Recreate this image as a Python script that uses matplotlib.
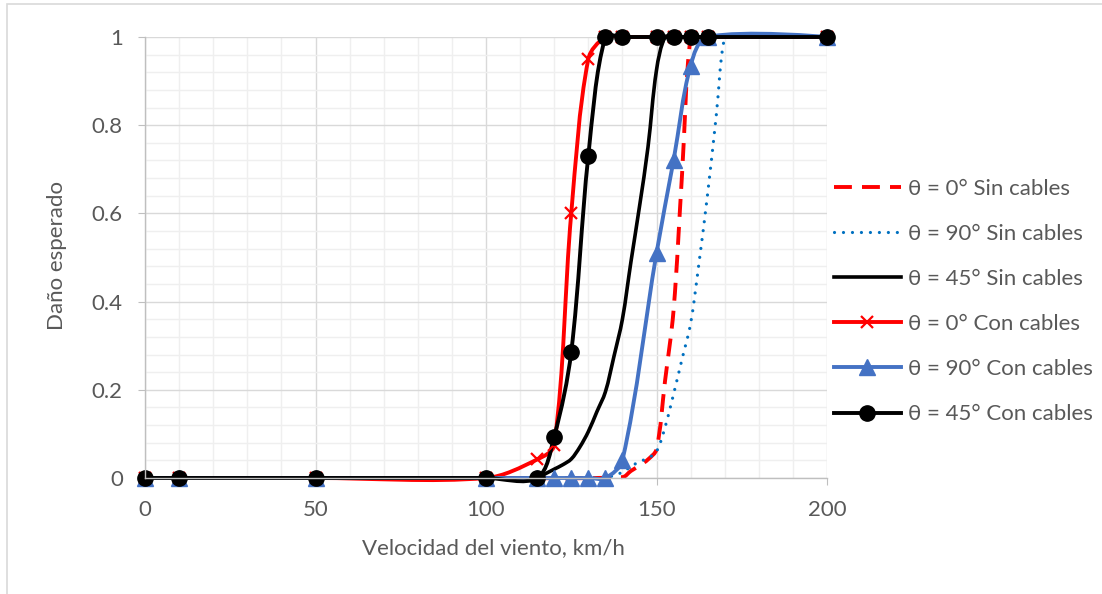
import matplotlib
matplotlib.use("Agg")
import matplotlib.pyplot as plt
import numpy as np
from matplotlib.lines import Line2D
from matplotlib.patches import PathPatch, Rectangle
from matplotlib.path import Path
from matplotlib.ticker import MultipleLocator, FuncFormatter

# wind speed (km/h) for the "con cables" series (with markers)
v_con = [0, 10, 50, 100, 115, 120, 125, 130, 135, 140, 150, 155, 160, 165, 200]
dmg_0_con = [0, 0, 0, 0, 0.042, 0.075, 0.60, 0.95, 1, 1, 1, 1, 1, 1, 1]
dmg_90_con = [0, 0, 0, 0, 0, 0, 0, 0, 0, 0.04, 0.51, 0.72, 0.935, 1, 1]
dmg_45_con = [0, 0, 0, 0, 0, 0.094, 0.286, 0.73, 1, 1, 1, 1, 1, 1, 1]

# "sin cables" series (plain smoothed lines)
v_0_sin = [0, 50, 100, 140, 142.5, 145, 147.5, 150, 152.5, 155, 157.5, 160, 162.5, 200]
dmg_0_sin = [0, 0, 0, 0.002, 0.016, 0.028, 0.042, 0.065, 0.22, 0.38, 0.69, 1, 1, 1]
v_90_sin = [0, 50, 100, 135, 137.5, 140, 142.5, 145, 147.5, 150, 152.5, 155, 157.5,
            160, 162.5, 165, 167.5, 170, 172.5, 200]
dmg_90_sin = [0, 0, 0, 0, 0.006, 0.013, 0.026, 0.037, 0.045, 0.06, 0.115, 0.19, 0.27,
              0.35, 0.49, 0.645, 0.82, 1, 1, 1]
v_45_sin = [0, 50, 100, 115, 117.5, 120, 122.5, 125, 127.5, 130, 132.5, 135, 137.5,
            140, 142.5, 145, 147.5, 150, 152.5, 155, 200]
dmg_45_sin = [0, 0, 0, 0, 0.01, 0.02, 0.03, 0.043, 0.07, 0.105, 0.15, 0.195, 0.275,
              0.36, 0.49, 0.615, 0.75, 0.925, 1, 1, 1]

labels = ["θ = 0° Sin cables", "θ = 90° Sin cables", "θ = 45° Sin cables",
          "θ = 0° Con cables", "θ = 90° Con cables", "θ = 45° Con cables"]

RED = "#FF0000"
BLUE_DOT = "#0070C0"
BLUE = "#4472C4"
TXT = "#595959"
FONT = "Lato"
FS = 16

# axes box in pixels (for the spreadsheet-like smoothing, done in screen space)
AX_L, AX_R, AX_T, AX_B = 145, 827, 37, 478
SX = (AX_R - AX_L) / 200.0
SY = (AX_B - AX_T) / 1.0


def smooth_path(x, y, t=1 / 3):
    """Spreadsheet-style smoothed line: cubic Bezier with control points
    weighted by the neighbouring segment lengths (measured on screen)."""
    p = np.column_stack([x, y]).astype(float)
    n = len(p)
    scale = np.array([SX, SY])
    before = [p[0]] * n
    after = [p[0]] * n
    for i in range(n):
        if i == 0 or i == n - 1:
            before[i] = after[i] = p[i]
            continue
        d01 = np.linalg.norm((p[i] - p[i - 1]) * scale)
        d12 = np.linalg.norm((p[i + 1] - p[i]) * scale)
        tot = d01 + d12 if d01 + d12 > 0 else 1
        tan = p[i + 1] - p[i - 1]
        before[i] = p[i] - t * d01 / tot * tan
        after[i] = p[i] + t * d12 / tot * tan
    verts = [p[0]]
    codes = [Path.MOVETO]
    for i in range(n - 1):
        verts += [after[i], before[i + 1], p[i + 1]]
        codes += [Path.CURVE4] * 3
    return Path(verts, codes)


plt.rcParams["font.family"] = [FONT, "DejaVu Sans"]

fig = plt.figure(figsize=(11.02, 5.94), dpi=100)
ax = fig.add_axes([AX_L / 1102, 1 - AX_B / 594, (AX_R - AX_L) / 1102, (AX_B - AX_T) / 594])

# chart area border
fig.patches.append(Rectangle((7 / 1102, -0.05), 1.1, 1 - 4 / 594 + 0.05,
                             transform=fig.transFigure, fill=False,
                             edgecolor="#d9d9d9", lw=1.2))

ax.set_xlim(0, 200)
ax.set_ylim(0, 1)
ax.xaxis.set_major_locator(MultipleLocator(50))
ax.xaxis.set_minor_locator(MultipleLocator(10))
ax.yaxis.set_major_locator(MultipleLocator(0.2))
ax.yaxis.set_minor_locator(MultipleLocator(0.04))
ax.yaxis.set_major_formatter(FuncFormatter(lambda v, _: f"{v:g}"))
ax.grid(which="major", color="#d9d9d9", lw=1.0)
ax.grid(which="minor", color="#efefef", lw=1.0)
ax.set_axisbelow(True)
for s in ["top", "right"]:
    ax.spines[s].set_visible(False)
for s in ["left", "bottom"]:
    ax.spines[s].set_color("#bfbfbf")
    ax.spines[s].set_linewidth(1.0)
ax.tick_params(which="major", direction="out", length=5, width=0.8,
               color="#bfbfbf", labelcolor=TXT, labelsize=FS)
ax.tick_params(axis="x", pad=11)
ax.tick_params(axis="y", pad=11)
ax.tick_params(which="minor", length=0)

styles = [
    dict(color=RED, lw=2.8, ls=(0, (4.6, 2.6)), capstyle="butt"),
    dict(color=BLUE_DOT, lw=2.3, ls=(0, (0.01, 2.8)), capstyle="round"),
    dict(color="black", lw=2.6, ls="-", capstyle="round"),
    dict(color=RED, lw=2.8, ls="-", capstyle="round"),
    dict(color=BLUE, lw=2.8, ls="-", capstyle="round"),
    dict(color="black", lw=2.8, ls="-", capstyle="round"),
]
markers = [None, None, None,
           dict(marker="x", ms=8, mew=1.6, mfc=RED, mec=RED),
           dict(marker="^", ms=11, mfc=BLUE, mec=BLUE),
           dict(marker="o", ms=11, mfc="black", mec="black")]
series = [(v_0_sin, dmg_0_sin), (v_90_sin, dmg_90_sin), (v_45_sin, dmg_45_sin),
          (v_con, dmg_0_con), (v_con, dmg_90_con), (v_con, dmg_45_con)]

handles = []
for (x, y), st, mk in zip(series, styles, markers):
    patch = PathPatch(smooth_path(x, y), fill=False, edgecolor=st["color"],
                      lw=st["lw"], linestyle=st["ls"], capstyle=st["capstyle"],
                      joinstyle="round", clip_on=False)
    ax.add_patch(patch)
    if mk:
        ax.plot(x, y, ls="none", clip_on=False, zorder=patch.get_zorder() + 0.1, **mk)
    handles.append(Line2D([], [], color=st["color"], lw=st["lw"], ls=st["ls"],
                          dash_capstyle=st["capstyle"], **(mk or {})))

fig.legend(handles, labels, loc="center left",
           bbox_to_anchor=(834 / 1102, 1 - 301.5 / 594), frameon=False,
           fontsize=FS, labelcolor=TXT, handlelength=3.0, handletextpad=0.35,
           labelspacing=1.13, borderpad=0, borderaxespad=0)

fig.text(493.5 / 1102, 1 - 548 / 594, "Velocidad del viento, km/h",
         ha="center", va="center", color=TXT, fontsize=FS)
fig.text(57 / 1102, 1 - 255 / 594, "Daño esperado", rotation=90,
         ha="center", va="center", color=TXT, fontsize=FS)

fig.savefig("out.png", dpi=100)
